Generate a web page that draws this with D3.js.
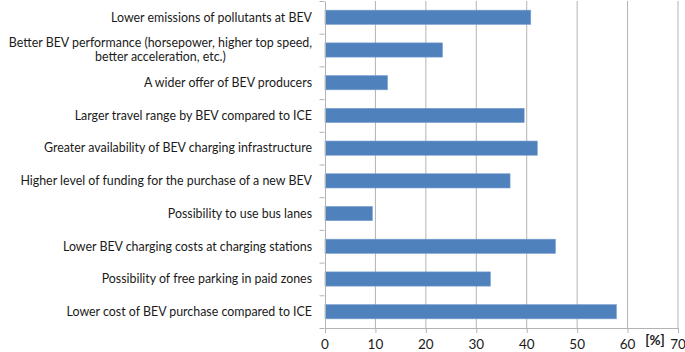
<!DOCTYPE html>
<html>
<head>
<meta charset="utf-8">
<script src="https://cdn.jsdelivr.net/npm/d3@7"></script>
<style>
  body { margin: 0; background: #fff; overflow: hidden; }
  text { font-family: Lato, "Open Sans", sans-serif; fill: #1a1a1a; }
</style>
</head>
<body>
<div id="chart"></div>
<script>
const categories = [
  'Lower emissions of pollutants at BEV',
  'Better BEV performance (horsepower, higher top speed,|better acceleration, etc.)',
  'A wider offer of BEV producers',
  'Larger travel range by BEV compared to ICE',
  'Greater availability of BEV charging infrastructure',
  'Higher level of funding for the purchase of a new BEV',
  'Possibility to use bus lanes',
  'Lower BEV charging costs at charging stations',
  'Possibility of free parking in paid zones',
  'Lower cost of BEV purchase compared to ICE'
]
const values = [40.8, 23.3, 12.4, 39.5, 42.1, 36.7, 9.4, 45.7, 32.8, 57.8]
const xTicks = [0, 10, 20, 30, 40, 50, 60, 70]

const W = 685
const H = 352
const margin = { top: 1, right: 8, bottom: 24, left: 324.5 }
const gridColor = '#b3b3b3'
const barColor = '#4f81bd'
const labelSize = 12.4

const svg = d3.select('#chart').append('svg')
  .attr('width', W)
  .attr('height', H)

const x = d3.scaleLinear()
  .domain([0, 70])
  .range([margin.left, 677.5])

const y = d3.scaleBand()
  .domain(categories)
  .range([margin.top, H - margin.bottom])
  .paddingInner(0.565)
  .paddingOuter(0.28)

const yLines = d3.scaleBand()
  .domain(categories)
  .range([margin.top, H - margin.bottom])

// vertical gridlines
svg.append('g')
  .selectAll('line')
  .data(xTicks.slice(1))
  .join('line')
  .attr('x1', d => x(d) + 0.5)
  .attr('x2', d => x(d) + 0.5)
  .attr('y1', margin.top)
  .attr('y2', H - margin.bottom)
  .attr('stroke', gridColor)
  .attr('stroke-width', 1)

// bars
svg.append('g')
  .selectAll('rect')
  .data(values)
  .join('rect')
  .attr('x', x(0) + 0.5)
  .attr('y', (d, i) => y(categories[i]))
  .attr('width', d => x(d) - x(0))
  .attr('height', y.bandwidth())
  .attr('fill', barColor)
  .attr('stroke', '#7aa0d0')
  .attr('stroke-width', 0.6)

// x axis
const xAxis = svg.append('g')
  .attr('transform', `translate(0,${H - margin.bottom})`)
  .call(d3.axisBottom(x).tickValues(xTicks).tickSize(5).tickSizeOuter(0))
xAxis.select('.domain').attr('stroke', gridColor)
xAxis.selectAll('.tick line').attr('stroke', gridColor).attr('transform', 'translate(0.5,0)')
xAxis.selectAll('.tick text')
  .attr('font-size', 13.5)
  .attr('dy', '0.71em')
  .attr('y', 11)
  .style('font-family', 'Lato, sans-serif')
  .attr('fill', '#1a1a1a')

svg.append('text')
  .attr('x', 655)
  .attr('y', 345)
  .attr('text-anchor', 'middle')
  .attr('font-size', 13.5)
  .attr('font-weight', 'bold')
  .attr('fill', '#333')
  .text('[%]')

// y axis
const yAxis = svg.append('g')
  .attr('transform', `translate(${x(0)},0)`)
  .call(d3.axisLeft(yLines).tickSize(0).tickFormat(''))
yAxis.select('.domain').attr('stroke', gridColor).attr('transform', 'translate(0.5,0)')

// category boundary ticks
svg.append('g')
  .selectAll('line')
  .data(categories.concat(['end']))
  .join('line')
  .attr('x1', x(0) - 5)
  .attr('x2', x(0))
  .attr('y1', (d, i) => i < categories.length ? yLines(d) + 0.5 : H - margin.bottom + 0.5)
  .attr('y2', (d, i) => i < categories.length ? yLines(d) + 0.5 : H - margin.bottom + 0.5)
  .attr('stroke', gridColor)

// category labels
const labelRight = 312
const labels = svg.append('g')
  .selectAll('text')
  .data(categories)
  .join('text')
  .attr('text-anchor', 'end')
  .attr('font-size', labelSize)
  .attr('x', labelRight)
  .attr('y', d => yLines(d) + yLines.bandwidth() / 2)

labels.each(function (d) {
  const parts = d.split('|')
  const t = d3.select(this)
  if (parts.length === 1) {
    t.append('tspan').attr('x', labelRight).attr('dy', '0.35em').text(d)
    return
  }
  const first = t.append('tspan')
    .attr('x', labelRight)
    .attr('dy', '-0.25em')
    .text(parts[0])
  const w = first.node().getComputedTextLength()
  const mid = labelRight - w / 2
  parts.slice(1).forEach(p => {
    t.append('tspan')
      .attr('x', mid)
      .attr('text-anchor', 'middle')
      .attr('dy', '1.15em')
      .text(p)
  })
})
</script>
</body>
</html>
